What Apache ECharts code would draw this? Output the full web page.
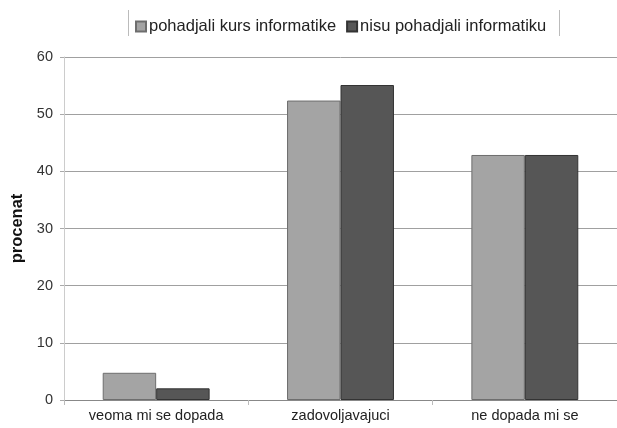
<!DOCTYPE html>
<html>
<head>
<meta charset="utf-8">
<script src="https://cdn.jsdelivr.net/npm/echarts@6/dist/echarts.min.js"></script>
<style>html,body{margin:0;padding:0;background:#fff}#c{width:617px;height:428px}</style>
</head>
<body>
<div id="c"></div>
<script>
const categories = ['veoma mi se dopada', 'zadovoljavajuci', 'ne dopada mi se'];
const seriesNames = ['pohadjali kurs informatike', 'nisu pohadjali informatiku'];
const attended = [4.76, 52.38, 42.86];
const notAttended = [2.04, 55.10, 42.86];
const yTicks = [0, 10, 20, 30, 40, 50, 60];

const chart = echarts.init(document.getElementById('c'), null, {renderer: 'canvas'});
const font = 'Liberation Sans, Arial, sans-serif';
chart.setOption({
  animation: false,
  textStyle: {fontFamily: font},
  legend: {
    top: 13,
    left: 130,
    itemWidth: 10,
    itemHeight: 10,
    itemGap: 10,
    icon: 'rect',
    textStyle: {fontFamily: font, fontSize: 16.5, color: '#222', padding: [0, 0, 0, -2]},
    data: seriesNames
  },
  graphic: [
    {type: 'line', shape: {x1: 128.5, y1: 10, x2: 128.5, y2: 36}, style: {stroke: '#bbb', lineWidth: 1}},
    {type: 'line', shape: {x1: 559.5, y1: 10, x2: 559.5, y2: 36}, style: {stroke: '#bbb', lineWidth: 1}}
  ],
  grid: {left: 64, right: -6, top: 57, bottom: 28, containLabel: false},
  xAxis: {
    type: 'category',
    data: categories,
    axisLine: {lineStyle: {color: '#888', width: 1}},
    axisTick: {show: true, length: 5, lineStyle: {color: '#bbb'}},
    axisLabel: {fontFamily: font, fontSize: 14.5, color: '#222', margin: 8}
  },
  yAxis: {
    type: 'value',
    min: yTicks[0],
    max: yTicks[yTicks.length - 1],
    interval: 10,
    name: 'procenat',
    nameLocation: 'middle',
    nameGap: 37,
    nameRotate: 90,
    nameTextStyle: {fontFamily: font, fontSize: 16.5, fontWeight: 'bold', color: '#111'},
    axisLine: {show: true, lineStyle: {color: '#ccc'}},
    axisTick: {show: true, length: 4, lineStyle: {color: '#aaa'}},
    axisLabel: {fontFamily: font, fontSize: 14.5, color: '#333', margin: 11},
    splitLine: {lineStyle: {color: '#a0a0a0', width: 1}}
  },
  series: [
    {
      name: seriesNames[0], type: 'bar', data: attended,
      barGap: '0%', barCategoryGap: '42%',
      itemStyle: {color: '#a4a4a4', borderColor: '#6e6e6e', borderWidth: 1}
    },
    {
      name: seriesNames[1], type: 'bar', data: notAttended,
      itemStyle: {color: '#565656', borderColor: '#333', borderWidth: 1}
    }
  ]
});
</script>
</body>
</html>
